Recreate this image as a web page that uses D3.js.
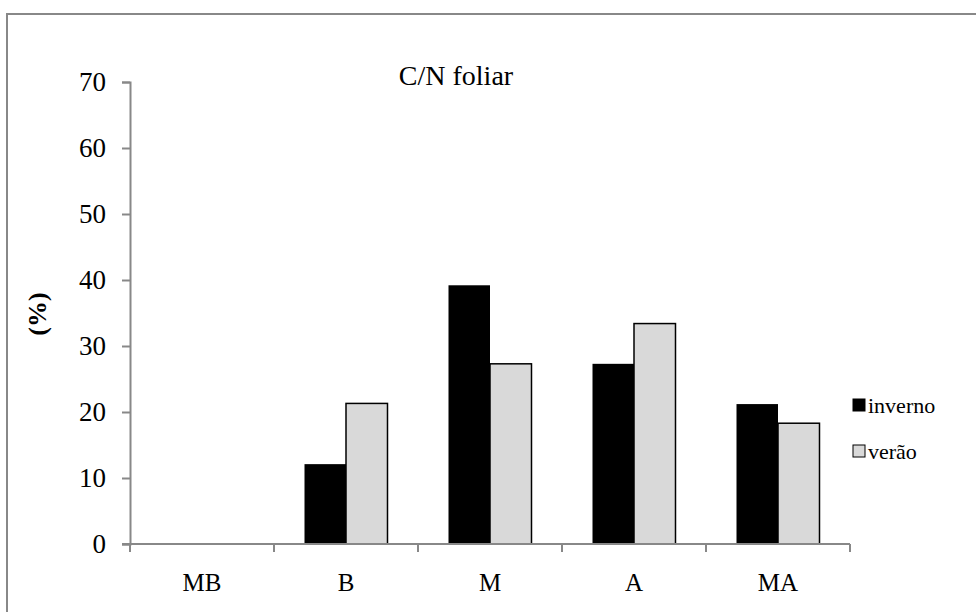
<!DOCTYPE html>
<html>
<head>
<meta charset="utf-8">
<script src="https://cdn.jsdelivr.net/npm/d3@7"></script>
<style>
  html, body { margin: 0; padding: 0; background: #fff; }
  svg { display: block; }
</style>
</head>
<body>
<svg id="chart" width="976" height="612"></svg>
<script>
// Leaf C/N ratio by class, winter vs summer
const categories = ["MB", "B", "M", "A", "MA"];
const seriesNames = ["inverno", "verão"];
const inverno = [0, 12.1, 39.2, 27.3, 21.2];
const verao = [0, 21.3, 27.3, 33.4, 18.3];
const yTicks = [0, 10, 20, 30, 40, 50, 60, 70];

const seriesValues = [inverno, verao];
const seriesColors = ["#000000", "#d9d9d9"];
const FONT = "'Liberation Serif', 'Times New Roman', serif";

const svg = d3.select("#chart");
const margin = { left: 130, right: 126, top: 82, bottom: 68 };
const W = 976, H = 612;

// Outer frame
svg.append("rect")
  .attr("x", 7).attr("y", 14)
  .attr("width", 1000).attr("height", 700)
  .attr("fill", "none").attr("stroke", "#888").attr("stroke-width", 2);

const x0 = d3.scaleBand()
  .domain(categories)
  .range([margin.left, W - margin.right])
  .padding(0);

const x1 = d3.scaleBand()
  .domain(seriesNames)
  .range([0, x0.bandwidth()])
  .paddingInner(0)
  .paddingOuter(0.735);

const y = d3.scaleLinear()
  .domain([0, 70])
  .range([H - margin.bottom, margin.top]);

// Bars
const groups = svg.append("g").selectAll("g")
  .data(categories)
  .join("g")
  .attr("transform", d => `translate(${x0(d)},0)`);

groups.selectAll("rect")
  .data((c, i) => seriesNames.map((s, k) => ({ s, k, v: seriesValues[k][i] })))
  .join("rect")
  .filter(d => d.v > 0)
  .attr("x", d => x1(d.s))
  .attr("y", d => y(d.v))
  .attr("width", x1.bandwidth())
  .attr("height", d => y(0) - y(d.v))
  .attr("fill", d => seriesColors[d.k])
  .attr("stroke", "#000")
  .attr("stroke-width", d => d.k === 1 ? 1.5 : 0);

// Y axis
const yAxis = svg.append("g")
  .attr("transform", `translate(${margin.left},0)`)
  .call(d3.axisLeft(y).tickValues(yTicks).tickSize(8).tickPadding(16).tickFormat(d3.format("d")));
yAxis.select(".domain").attr("stroke", "#888").attr("stroke-width", 2);
yAxis.selectAll(".tick line").attr("stroke", "#888").attr("stroke-width", 2);
yAxis.selectAll(".tick text")
  .style("font-family", FONT).style("font-size", "27px").style("fill", "#000");

// X axis with ticks on category boundaries
const bounds = categories.map(c => x0(c)).concat([x0(categories[categories.length - 1]) + x0.bandwidth()]);
const xAxisG = svg.append("g").attr("transform", `translate(0,${y(0)})`);
xAxisG.append("line")
  .attr("x1", margin.left - 8).attr("x2", W - margin.right)
  .attr("stroke", "#888").attr("stroke-width", 2);
xAxisG.selectAll("line.tk")
  .data(bounds)
  .join("line")
  .attr("class", "tk")
  .attr("x1", d => d).attr("x2", d => d)
  .attr("y1", 0).attr("y2", 8)
  .attr("stroke", "#888").attr("stroke-width", 2);
xAxisG.selectAll("text")
  .data(categories)
  .join("text")
  .attr("x", d => x0(d) + x0.bandwidth() / 2)
  .attr("y", 47)
  .attr("text-anchor", "middle")
  .style("font-family", FONT).style("font-size", "25px")
  .text(d => d);

// Title
svg.append("text")
  .attr("x", 456).attr("y", 85)
  .attr("text-anchor", "middle")
  .style("font-family", FONT).style("font-size", "28px")
  .text("C/N foliar");

// Y axis title
svg.append("text")
  .attr("transform", `translate(46,314) rotate(-90)`)
  .attr("text-anchor", "middle")
  .style("font-family", FONT).style("font-size", "26px").style("font-weight", "bold")
  .text("(%)");

// Legend
const legend = svg.append("g").attr("transform", "translate(853,399)");
seriesNames.forEach((s, k) => {
  const g = legend.append("g").attr("transform", `translate(0,${k * 46})`);
  g.append("rect")
    .attr("x", 0).attr("y", 0)
    .attr("width", 12).attr("height", 12)
    .attr("fill", seriesColors[k])
    .attr("stroke", "#000").attr("stroke-width", 1);
  g.append("text")
    .attr("x", 15).attr("y", 14)
    .style("font-family", FONT).style("font-size", "22px")
    .text(s);
});
</script>
</body>
</html>
